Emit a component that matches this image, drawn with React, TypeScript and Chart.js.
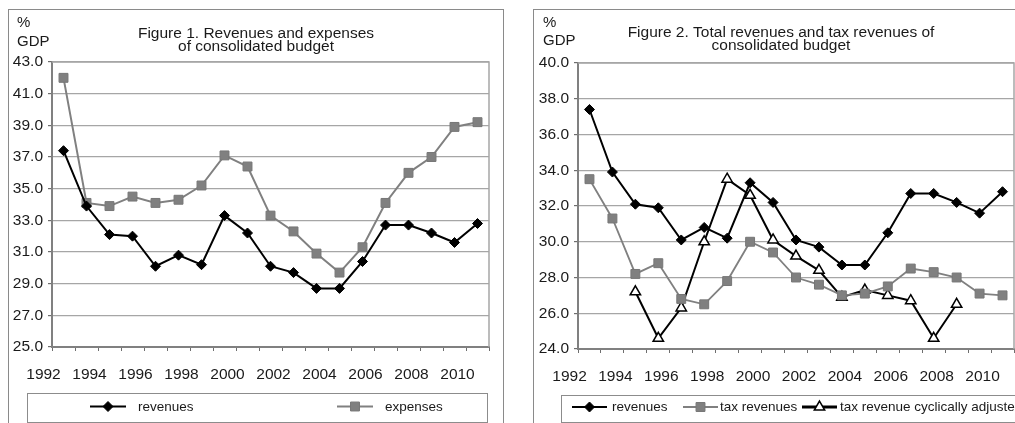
import React, { useEffect, useRef } from 'react';
import { Chart, registerables } from 'chart.js';

Chart.register(...registerables);

// ---------------- data ----------------
const years = [1993, 1994, 1995, 1996, 1997, 1998, 1999, 2000, 2001, 2002, 2003, 2004, 2005, 2006, 2007, 2008, 2009, 2010, 2011];
const xLabelYears = [1992, 1994, 1996, 1998, 2000, 2002, 2004, 2006, 2008, 2010];

const fig1Revenues = [37.4, 33.9, 32.1, 32.0, 30.1, 30.8, 30.2, 33.3, 32.2, 30.1, 29.7, 28.7, 28.7, 30.4, 32.7, 32.7, 32.2, 31.6, 32.8];
const fig1Expenses = [42.0, 34.1, 33.9, 34.5, 34.1, 34.3, 35.2, 37.1, 36.4, 33.3, 32.3, 30.9, 29.7, 31.3, 34.1, 36.0, 37.0, 38.9, 39.2];
const fig1YRange = [25, 43];

const fig2Revenues = [37.4, 33.9, 32.1, 31.9, 30.1, 30.8, 30.2, 33.3, 32.2, 30.1, 29.7, 28.7, 28.7, 30.5, 32.7, 32.7, 32.2, 31.6, 32.8];
const fig2TaxRevenues = [33.5, 31.3, 28.2, 28.8, 26.8, 26.5, 27.8, 30.0, 29.4, 28.0, 27.6, 27.0, 27.1, 27.5, 28.5, 28.3, 28.0, 27.1, 27.0];
const fig2CyclicalYears = [1995, 1996, 1997, 1998, 1999, 2000, 2001, 2002, 2003, 2004, 2005, 2006, 2007, 2008, 2009];
const fig2TaxCyclical = [27.2, 24.6, 26.3, 30.0, 33.5, 32.6, 30.1, 29.2, 28.4, 26.9, 27.3, 27.0, 26.7, 24.6, 26.5];
const fig2YRange = [24, 40];

const yStep = 2;

const fig1Title = ['Figure 1. Revenues and expenses', 'of consolidated budget'];
const fig2Title = ['Figure 2. Total revenues and tax revenues of', 'consolidated budget'];
const unitLabel = ['%', 'GDP'];

// ---------------- styles ----------------
const FONT = '"Liberation Sans", Arial, Helvetica, sans-serif';
const TEXT = '#1a1a1a';
const GRAY = '#808080';

type Marker = 'diamond' | 'square' | 'triangle';
type Series = {
  label: string; xs: number[]; ys: number[]; color: string; width: number;
  legendWidth: number; marker: Marker; fill: string; stroke: string;
};

const fig1Series: Series[] = [
  { label: 'revenues', xs: years, ys: fig1Revenues, color: '#000', width: 2, legendWidth: 2, marker: 'diamond', fill: '#000', stroke: '#000' },
  { label: 'expenses', xs: years, ys: fig1Expenses, color: GRAY, width: 2, legendWidth: 2, marker: 'square', fill: GRAY, stroke: '#767676' },
];
const fig2Series: Series[] = [
  { label: 'revenues', xs: years, ys: fig2Revenues, color: '#000', width: 2, legendWidth: 2, marker: 'diamond', fill: '#000', stroke: '#000' },
  { label: 'tax revenues', xs: years, ys: fig2TaxRevenues, color: GRAY, width: 1.8, legendWidth: 1.8, marker: 'square', fill: GRAY, stroke: '#767676' },
  { label: 'tax revenue cyclically adjusted', xs: fig2CyclicalYears, ys: fig2TaxCyclical, color: '#000', width: 2, legendWidth: 3.2, marker: 'triangle', fill: '#fff', stroke: '#000' },
];

const fig1Layout = {
  yWidth: 43, padTop: 52, padRight: 9, xHeight: 36, padBottom: 40,
  titleY: [27.5, 41], unitX: 8, unitY: [17, 36],
  legend: { left: 18, right: 478, top: 383, bottom: 412, cy: 396.5, itemX: [81, 328], lineLen: 36, textX: [129, 376] },
};
const fig2Layout = {
  yWidth: 44, padTop: 53, padRight: 9, xHeight: 36, padBottom: 38,
  titleY: [27, 40], unitX: 9, unitY: [17, 35],
  legend: { left: 27, right: 487, top: 385, bottom: 412, cy: 397, itemX: [38, 149, 268], lineLen: 35, textX: [78, 186, 306] },
};

const pointStyleOf: Record<Marker, any> = { diamond: 'rectRot', square: 'rect', triangle: 'triangle' };
const pointRadiusOf: Record<Marker, number> = { diamond: 5, square: 6.3, triangle: 6 };

function drawMarker(ctx: CanvasRenderingContext2D, s: Series, x: number, y: number) {
  ctx.save();
  ctx.fillStyle = s.fill;
  ctx.strokeStyle = s.stroke;
  ctx.lineWidth = s.marker === 'triangle' ? 1.5 : 1;
  ctx.beginPath();
  if (s.marker === 'diamond') {
    const r = pointRadiusOf.diamond;
    ctx.moveTo(x - r, y); ctx.lineTo(x, y - r); ctx.lineTo(x + r, y); ctx.lineTo(x, y + r);
  } else if (s.marker === 'square') {
    const h = pointRadiusOf.square * Math.SQRT1_2;
    ctx.rect(x - h, y - h, 2 * h, 2 * h);
  } else {
    const r = pointRadiusOf.triangle;
    for (let k = 0; k < 3; k++) {
      const a = (k * 2 * Math.PI) / 3;
      const px = x + Math.sin(a) * r;
      const py = y - Math.cos(a) * r;
      if (k === 0) ctx.moveTo(px, py); else ctx.lineTo(px, py);
    }
  }
  ctx.closePath();
  ctx.fill();
  ctx.stroke();
  ctx.restore();
}

type Spec = { title: string[]; series: Series[]; yRange: number[]; layout: typeof fig1Layout };

function buildConfig(spec: Spec): any {
  const xMin = years[0] - 0.5;
  const xMax = years[years.length - 1] + 0.5;
  const halfTicks: number[] = [];
  for (let v = xMin; v <= xMax + 1e-9; v += 1) halfTicks.push(v);
  const tickValues = [...halfTicks.slice(0, -1), ...xLabelYears, halfTicks[halfTicks.length - 1]];
  const L = spec.layout;

  const decor = {
    id: 'decor',
    beforeDatasetsDraw(chart: any) {
      const { ctx, chartArea: a } = chart;
      ctx.save();
      ctx.strokeStyle = '#a6a6a6';
      ctx.lineWidth = 1.5;
      ctx.beginPath();
      ctx.moveTo(a.left, a.top);
      ctx.lineTo(a.right, a.top);
      ctx.lineTo(a.right, a.bottom);
      ctx.stroke();
      ctx.restore();
    },
    afterDraw(chart: any) {
      const ctx: CanvasRenderingContext2D = chart.ctx;
      ctx.save();
      ctx.fillStyle = TEXT;
      ctx.textBaseline = 'alphabetic';
      ctx.textAlign = 'center';
      ctx.font = `15.5px ${FONT}`;
      spec.title.forEach((line, i) => ctx.fillText(line, chart.width / 2, L.titleY[i]));
      ctx.textAlign = 'left';
      ctx.font = `15px ${FONT}`;
      unitLabel.forEach((line, i) => ctx.fillText(line, L.unitX, L.unitY[i]));

      const g = L.legend;
      ctx.strokeStyle = '#8c8c8c';
      ctx.lineWidth = 1;
      ctx.strokeRect(g.left + 0.5, g.top + 0.5, g.right - g.left, g.bottom - g.top);
      ctx.font = `13.5px ${FONT}`;
      ctx.textBaseline = 'middle';
      spec.series.forEach((s, i) => {
        const x0 = g.itemX[i];
        ctx.strokeStyle = s.color;
        ctx.lineWidth = s.legendWidth;
        ctx.beginPath();
        ctx.moveTo(x0, g.cy);
        ctx.lineTo(x0 + g.lineLen, g.cy);
        ctx.stroke();
        drawMarker(ctx, s, x0 + g.lineLen / 2, g.cy);
        ctx.fillStyle = TEXT;
        ctx.fillText(s.label, g.textX[i], g.cy + 0.5);
      });
      ctx.restore();
    },
  };

  return {
    type: 'line',
    data: {
      datasets: spec.series.map((s) => ({
        label: s.label,
        data: s.xs.map((x, i) => ({ x, y: s.ys[i] })),
        borderColor: s.color,
        borderWidth: s.width,
        backgroundColor: s.fill,
        pointStyle: pointStyleOf[s.marker],
        pointRadius: pointRadiusOf[s.marker],
        pointBackgroundColor: s.fill,
        pointBorderColor: s.stroke,
        pointBorderWidth: s.marker === 'triangle' ? 1.5 : 1,
        tension: 0,
        fill: false,
      })),
    },
    options: {
      responsive: false,
      animation: false,
      devicePixelRatio: 1,
      events: [],
      layout: { padding: { top: L.padTop, right: L.padRight, bottom: L.padBottom, left: 0 } },
      plugins: { legend: { display: false }, title: { display: false }, tooltip: { enabled: false } },
      scales: {
        x: {
          type: 'linear',
          position: 'bottom',
          min: xMin,
          max: xMax,
          afterBuildTicks: (scale: any) => { scale.ticks = tickValues.map((value) => ({ value })); },
          afterFit: (scale: any) => { scale.height = L.xHeight; },
          ticks: {
            autoSkip: false,
            maxRotation: 0,
            minRotation: 0,
            labelOffset: 3,
            padding: 14,
            color: TEXT,
            font: { family: FONT, size: 15.5 },
            callback: (v: number) => (xLabelYears.includes(v) ? String(v) : ''),
          },
          grid: {
            drawOnChartArea: false,
            drawTicks: true,
            tickLength: 4,
            tickWidth: 1,
            tickColor: (c: any) => (c.tick && xLabelYears.includes(c.tick.value) ? 'rgba(0,0,0,0)' : '#6e6e6e'),
          },
          border: { display: true, color: GRAY, width: 2 },
        },
        y: {
          type: 'linear',
          min: spec.yRange[0],
          max: spec.yRange[1],
          afterFit: (scale: any) => { scale.width = L.yWidth; },
          ticks: {
            stepSize: yStep,
            padding: 5,
            color: TEXT,
            font: { family: FONT, size: 15.5 },
            callback: (v: number) => Number(v).toFixed(1),
          },
          grid: { color: '#a6a6a6', lineWidth: 1.2, tickLength: 4, tickColor: '#6e6e6e', drawTicks: true },
          border: { display: true, color: GRAY, width: 2 },
        },
      },
    },
    plugins: [decor],
  };
}

const fig1Spec: Spec = { title: fig1Title, series: fig1Series, yRange: fig1YRange, layout: fig1Layout };
const fig2Spec: Spec = { title: fig2Title, series: fig2Series, yRange: fig2YRange, layout: fig2Layout };

function Panel({ spec, left, top }: { spec: Spec; left: number; top: number }) {
  const ref = useRef<HTMLCanvasElement>(null);
  useEffect(() => {
    if (!ref.current) return;
    const chart = new Chart(ref.current, buildConfig(spec));
    return () => chart.destroy();
  }, [spec]);
  return (
    <div style={{ position: 'absolute', left, top, width: 494, height: 430, border: '1px solid #8a8a8a', background: '#fff' }}>
      <canvas ref={ref} width={494} height={413} style={{ display: 'block', width: 494, height: 413 }} />
    </div>
  );
}

export default function App() {
  return (
    <div style={{ position: 'fixed', left: 0, top: 0, width: 1015, height: 423, overflow: 'hidden', background: '#fff' }}>
      <Panel spec={fig1Spec} left={8} top={9} />
      <Panel spec={fig2Spec} left={533} top={9} />
    </div>
  );
}
